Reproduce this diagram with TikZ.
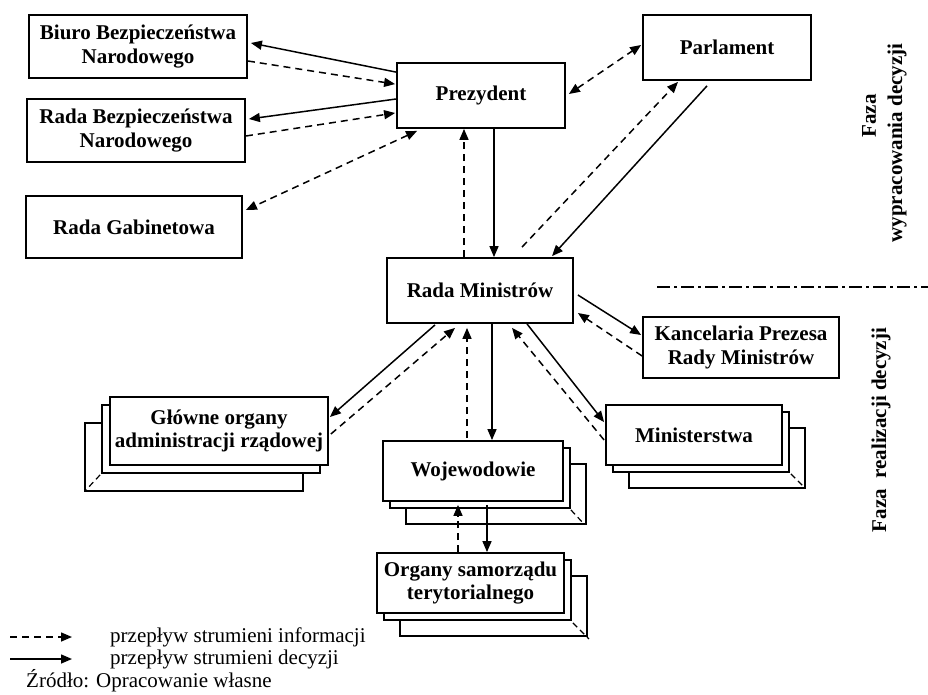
\documentclass[tikz,border=0pt]{standalone}
\usepackage{fontspec}
\setmainfont{Liberation Serif}
\usetikzlibrary{arrows.meta,calc,shadows}

\begin{document}
\begin{tikzpicture}[x=1pt,y=-1pt,
    box/.style={draw,line width=1.8pt,fill=white,align=center,inner sep=1pt,
      font=\fontsize{21}{23.5}\selectfont\bfseries},
    stackright/.style={copy shadow={shadow xshift=23pt,shadow yshift=-23pt},
      copy shadow={shadow xshift=7pt,shadow yshift=-7pt}},
    stackleft/.style={copy shadow={shadow xshift=-25pt,shadow yshift=-26pt},
      copy shadow={shadow xshift=-8pt,shadow yshift=-8pt}},
    dec/.style={-{Triangle[length=11pt,width=9pt]},line width=1.5pt},
    info/.style={dec,dash pattern=on 7pt off 5pt},
    infotwo/.style={info,{Triangle[length=11pt,width=9pt]}-{Triangle[length=11pt,width=9pt]}},
    corner/.style={line width=1.2pt,dash pattern=on 6pt off 4pt},
    phase/.style={rotate=90,font=\fontsize{21}{23.5}\selectfont\bfseries},
    legend/.style={anchor=west,inner sep=0pt,font=\fontsize{21}{23.5}\selectfont}]
  \useasboundingbox (0,0) rectangle (928,695);

  % decision phase
  \node[box,minimum width=218pt,minimum height=63pt] (biuro) at (138,46.5)
       {Biuro Bezpieczeństwa\\Narodowego};
  \node[box,minimum width=218pt,minimum height=63pt] (rbn) at (136,130.5)
       {Rada Bezpieczeństwa\\Narodowego};
  \node[box,minimum width=216pt,minimum height=62pt] (rgab) at (134,227) {Rada Gabinetowa};
  \node[box,minimum width=168pt,minimum height=65pt] (prez) at (481,95.5) {Prezydent};
  \node[box,minimum width=168pt,minimum height=65pt] (parl) at (727,47.5) {Parlament};
  \node[box,minimum width=186pt,minimum height=65pt] (rm) at (480,290.5) {Rada Ministrów};

  % realisation phase
  \node[box,minimum width=196pt,minimum height=61pt] (kanc) at (741,347.5)
       {Kancelaria Prezesa\\Rady Ministrów};
  \node[box,stackleft,minimum width=218pt,minimum height=68pt] (glowne) at (219,431)
       {Główne organy\\administracji rządowej};
  \node[box,stackright,minimum width=176pt,minimum height=60pt] (mini) at (694,435) {Ministerstwa};
  \node[box,stackright,minimum width=180pt,minimum height=60pt] (woj) at (473,471) {Wojewodowie};
  \node[box,stackright,minimum width=187pt,minimum height=60pt] (org) at (470.5,583)
       {Organy samorządu\\terytorialnego};

  \draw[corner] ($(glowne.south west)+(-9,9)$) -- ($(glowne.south west)+(-24,25)$);
  \draw[corner] ($(mini.south east)+(8,8)$) -- ($(mini.south east)+(22,22)$);
  \draw[corner] ($(woj.south east)+(7,8)$) -- ($(woj.south east)+(20,22)$);
  \draw[corner] ($(org.south east)+(8,9)$) -- ($(org.south east)+(24,25)$);

  \draw[dec] ($(prez.north west)+(0,10)$) -- ($(biuro.east)+(3,-3.5)$);
  \draw[info] ($(biuro.east)+(0,14.5)$) -- ($(prez.north west)+(-1,22)$);
  \draw[dec] ($(prez.west)+(0,3.5)$) -- ($(rbn.east)+(3,-11.5)$);
  \draw[info] ($(rbn.east)+(0,5.5)$) -- ($(prez.west)+(-1,17.5)$);
  \draw[infotwo] ($(prez.south west)+(21,2)$) -- ($(rgab.east)+(3,-17)$);
  \draw[infotwo] ($(prez.east)+(3,-1.5)$) -- ($(parl.west)+(-1,-2.5)$);
  \draw[dec] ($(prez.south)+(13,0)$) -- ($(rm.north)+(14,0)$);
  \draw[info] ($(rm.north)+(-16,0)$) -- ($(prez.south)+(-17,0)$);
  \draw[info] ($(rm.north)+(42,-10)$) -- ($(parl.south)+(-49,1)$);
  \draw[dec] ($(parl.south)+(-20,5)$) -- ($(rm.north)+(72,-1)$);

  \draw[dec] ($(rm.east)+(4,4.5)$) -- ($(kanc.west)+(-1,-12.5)$);
  \draw[info] ($(kanc.west)+(0,8.5)$) -- ($(rm.east)+(4,22.5)$);
  \draw[dec] ($(rm.south)+(47,0)$) -- ($(mini.north west)+(-1,18)$);
  \draw[info] ($(mini.west)+(-1,5)$) -- ($(rm.south)+(32,4)$);
  \draw[dec] ($(rm.south)+(12,0)$) -- ($(woj.north)+(19,0)$);
  \draw[info] ($(woj.north)+(-6,-2)$) -- ($(rm.south)+(-13,4)$);
  \draw[dec] ($(rm.south)+(-45,1)$) -- ($(glowne.east)+(1,-14)$);
  \draw[info] ($(glowne.east)+(2,3)$) -- ($(rm.south)+(-25,4)$);
  \draw[dec] ($(woj.south)+(14,3)$) -- ($(org.north)+(16.5,0)$);
  \draw[info] ($(org.north)+(-12.5,0)$) -- ($(woj.south)+(-15,3)$);

  % phase split
  \coordinate (splita) at (657,287);
  \coordinate (splitb) at (928,287);
  \draw[line width=1.4pt,dash pattern=on 13pt off 4pt on 3pt off 4pt] (splita) -- (splitb);
  \node[phase] (fazaa) at (869,116) {Faza};
  \node[phase] (wypr) at (897,143) {wypracowania decyzji};
  \node[phase] (fazab) at (881,430) {Faza\ \ realizacji decyzji};

  % legend
  \coordinate (infoa) at (10,637);
  \coordinate (infob) at (72,637);
  \coordinate (deca) at (10,659);
  \coordinate (decb) at (72,659);
  \draw[info] (infoa) -- (infob);
  \draw[dec] (deca) -- (decb);
  \node[legend] (infotx) at (110,637) {przepływ strumieni informacji};
  \node[legend] (dectx) at (110,659) {przepływ strumieni decyzji};
  \node[legend] (src) at (26,681) {Źródło: Opracowanie własne};
\end{tikzpicture}
\end{document}
